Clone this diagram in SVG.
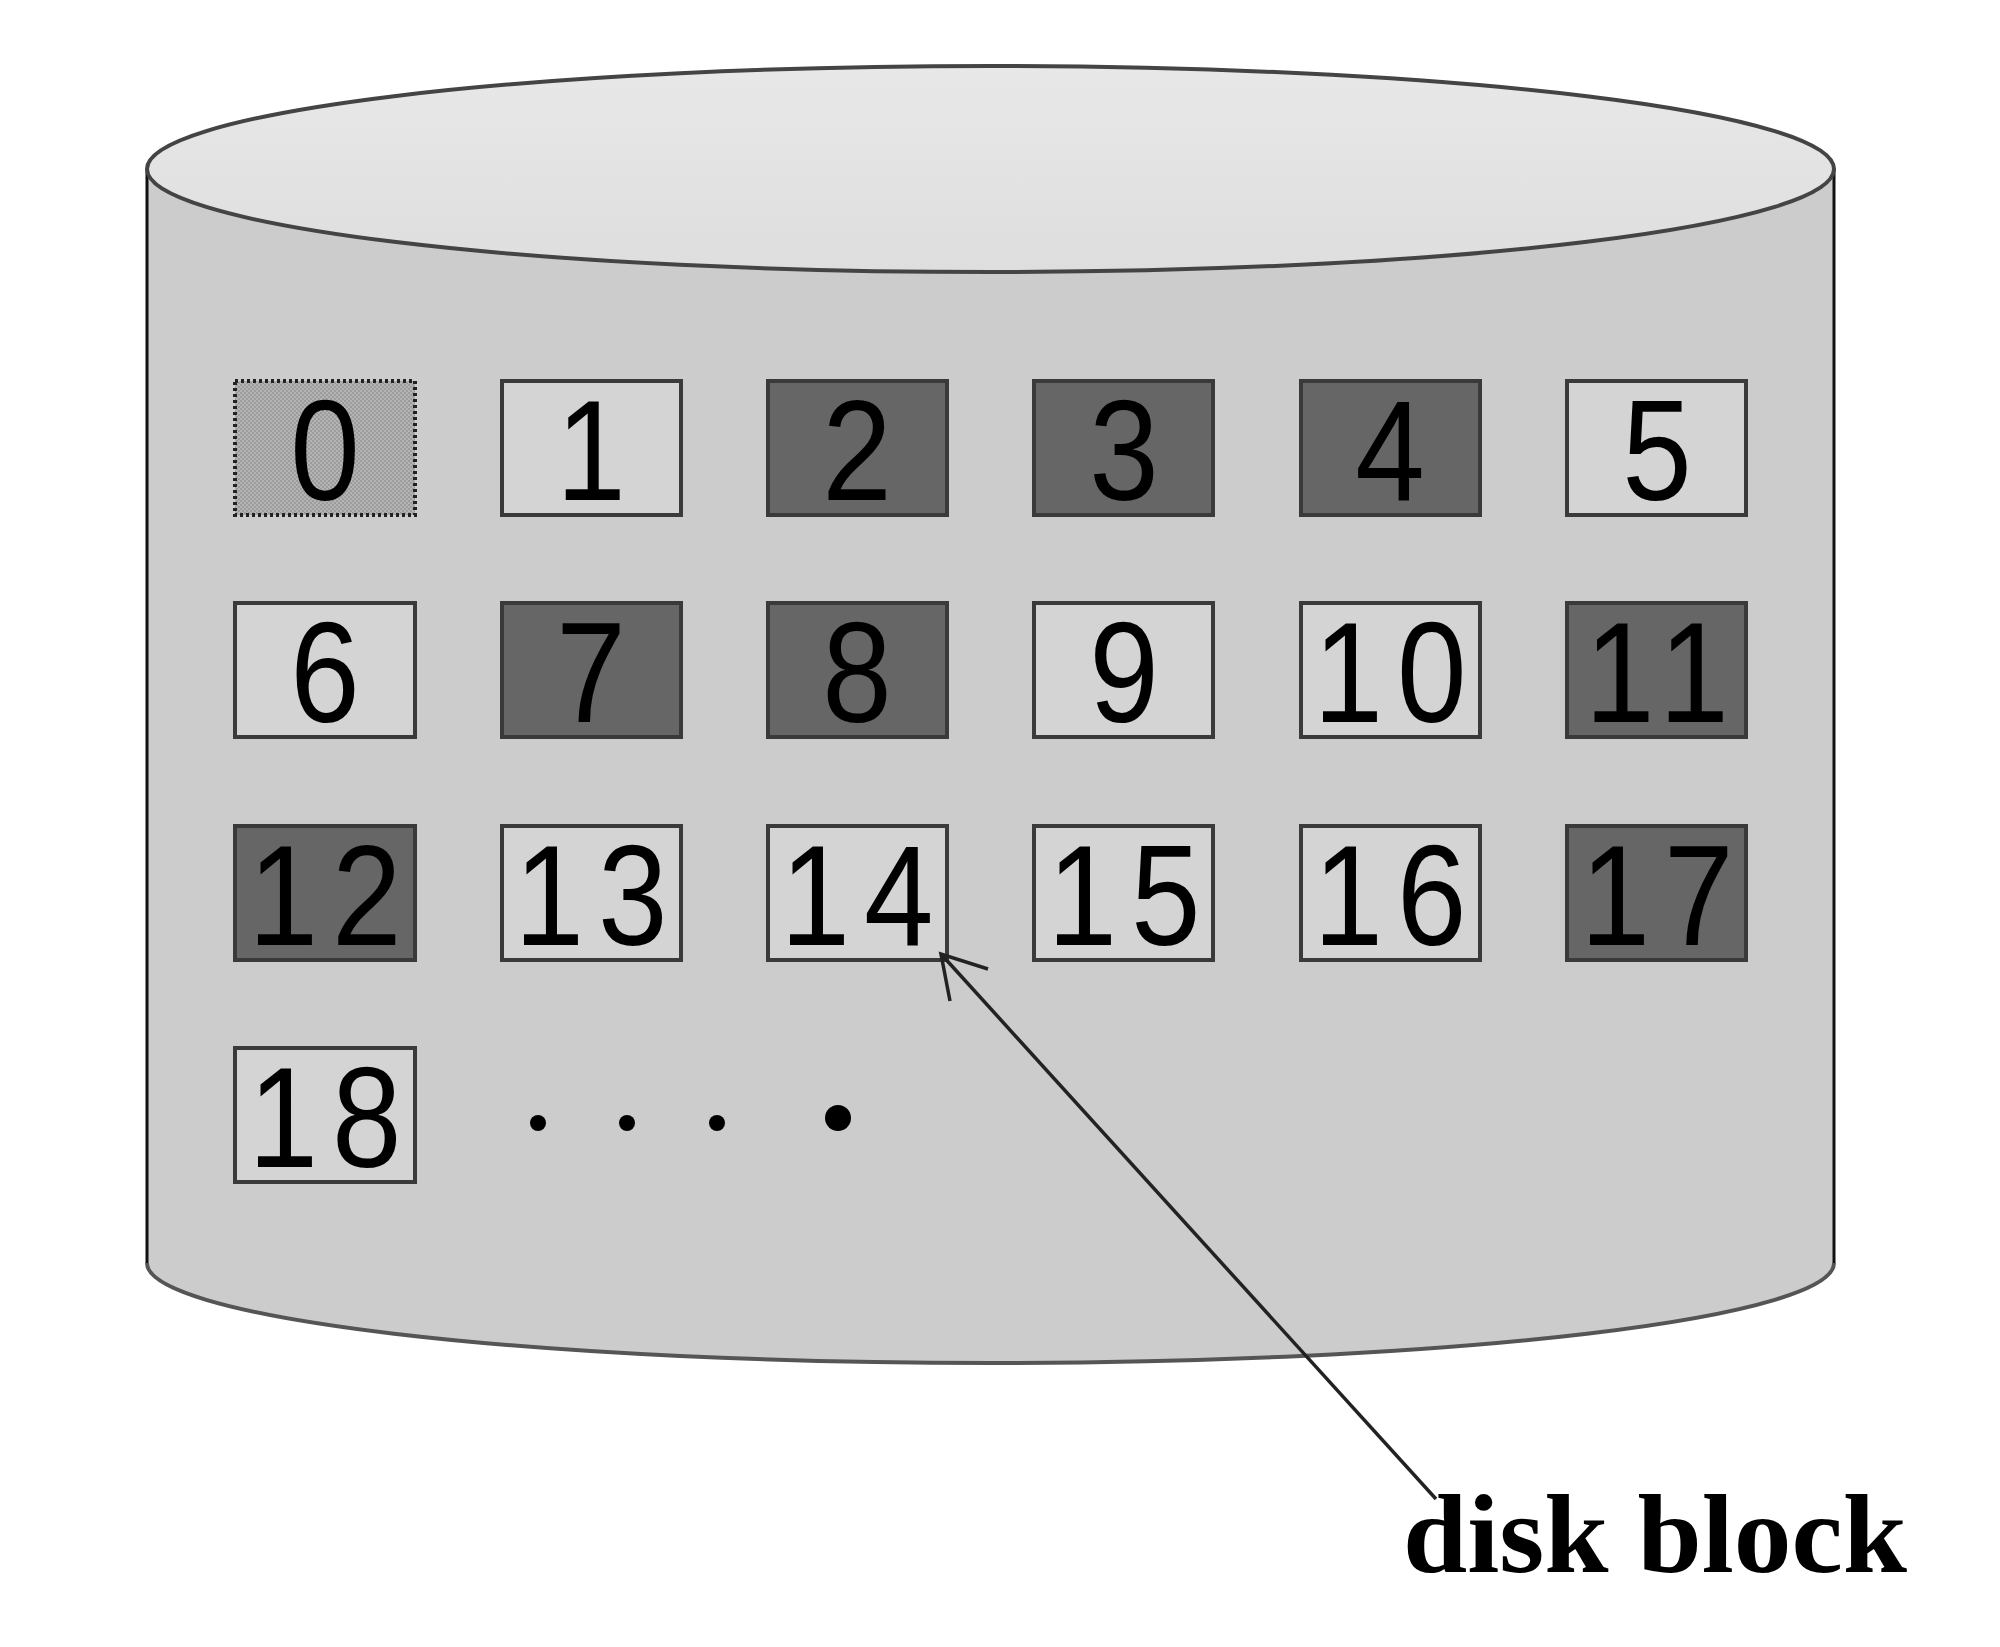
<svg xmlns="http://www.w3.org/2000/svg" width="2000" height="1647" viewBox="0 0 2000 1647">
<defs>
<linearGradient id="topg" x1="0" y1="0" x2="0" y2="1">
<stop offset="0" stop-color="#e8e8e8"/>
<stop offset="1" stop-color="#dedede"/>
</linearGradient>
<pattern id="chk" width="4" height="4" patternUnits="userSpaceOnUse">
<rect width="4" height="4" fill="#b4b4b4"/>
<rect width="2" height="2" fill="#9c9c9c"/>
<rect x="2" y="2" width="2" height="2" fill="#9c9c9c"/>
</pattern>
</defs>
<style>
.box{stroke:#3a3a3a;stroke-width:4}
.lt{fill:#d4d4d4}
.dk{fill:#666666}
.num{font-family:"Liberation Sans",Arial,sans-serif;font-size:142px;fill:#000;text-anchor:middle}
.two{letter-spacing:16px}
.lbl{font-family:"Liberation Serif","Times New Roman",serif;font-size:112px;font-weight:bold;fill:#000}
</style>
<rect width="2000" height="1647" fill="#ffffff"/>
<g id="cylinder">
<path d="M147,169 L147,1263 A843.5,100 0 0 0 1834,1263 L1834,169 Z" fill="#cccccc" stroke="none"/>
<path d="M147,1263 A843.5,100 0 0 0 1834,1263" fill="none" stroke="#555555" stroke-width="4"/>
<line x1="147" y1="169" x2="147" y2="1263" stroke="#111" stroke-width="3"/>
<line x1="1834" y1="169" x2="1834" y2="1263" stroke="#111" stroke-width="3"/>
<ellipse cx="990.5" cy="169" rx="843.5" ry="103" fill="url(#topg)" stroke="#444444" stroke-width="4"/>
</g>
<g id="b0"><rect x="235" y="381" width="180" height="134" fill="url(#chk)" stroke="#222" stroke-width="4" stroke-dasharray="3,3"/><text class="num" transform="translate(325,500) scale(0.88,1)">0</text></g>
<g id="b1"><rect class="box lt" x="502" y="381" width="179" height="134"/><text class="num" transform="translate(591,500) scale(0.88,1)">1</text></g>
<g id="b2"><rect class="box dk" x="768" y="381" width="179" height="134"/><text class="num" transform="translate(857,500) scale(0.88,1)">2</text></g>
<g id="b3"><rect class="box dk" x="1034" y="381" width="179" height="134"/><text class="num" transform="translate(1124,500) scale(0.88,1)">3</text></g>
<g id="b4"><rect class="box dk" x="1301" y="381" width="179" height="134"/><text class="num" transform="translate(1390,500) scale(0.88,1)">4</text></g>
<g id="b5"><rect class="box lt" x="1567" y="381" width="179" height="134"/><text class="num" transform="translate(1657,500) scale(0.88,1)">5</text></g>
<g id="b6"><rect class="box lt" x="235" y="603" width="180" height="134"/><text class="num" transform="translate(325,722) scale(0.88,1)">6</text></g>
<g id="b7"><rect class="box dk" x="502" y="603" width="179" height="134"/><text class="num" transform="translate(591,722) scale(0.88,1)">7</text></g>
<g id="b8"><rect class="box dk" x="768" y="603" width="179" height="134"/><text class="num" transform="translate(857,722) scale(0.88,1)">8</text></g>
<g id="b9"><rect class="box lt" x="1034" y="603" width="179" height="134"/><text class="num" transform="translate(1124,722) scale(0.88,1)">9</text></g>
<g id="b10"><rect class="box lt" x="1301" y="603" width="179" height="134"/><text class="num two" transform="translate(1397,722) scale(0.88,1)">10</text></g>
<g id="b11"><rect class="box dk" x="1567" y="603" width="179" height="134"/><text class="num two" transform="translate(1664,722) scale(0.88,1)">11</text></g>
<g id="b12"><rect class="box dk" x="235" y="826" width="180" height="134"/><text class="num two" transform="translate(332,945) scale(0.88,1)">12</text></g>
<g id="b13"><rect class="box lt" x="502" y="826" width="179" height="134"/><text class="num two" transform="translate(598,945) scale(0.88,1)">13</text></g>
<g id="b14"><rect class="box lt" x="768" y="826" width="179" height="134"/><text class="num two" transform="translate(864,945) scale(0.88,1)">14</text></g>
<g id="b15"><rect class="box lt" x="1034" y="826" width="179" height="134"/><text class="num two" transform="translate(1131,945) scale(0.88,1)">15</text></g>
<g id="b16"><rect class="box lt" x="1301" y="826" width="179" height="134"/><text class="num two" transform="translate(1397,945) scale(0.88,1)">16</text></g>
<g id="b17"><rect class="box dk" x="1567" y="826" width="179" height="134"/><text class="num two" transform="translate(1664,945) scale(0.88,1)">17</text></g>
<g id="b18"><rect class="box lt" x="235" y="1048" width="180" height="134"/><text class="num two" transform="translate(332,1167) scale(0.88,1)">18</text></g>
<g id="dots" fill="#000">
<circle cx="538" cy="1123" r="8"/>
<circle cx="627" cy="1123" r="8"/>
<circle cx="717" cy="1123" r="8"/>
<circle cx="838" cy="1118" r="13"/>
</g>
<g id="connectors" fill="none" stroke="#222" stroke-width="3.5">
<line x1="1436" y1="1499" x2="941" y2="954"/>
<path d="M988,969 L941,954 L950,1001"/>
</g>
<g id="label"><text class="lbl" x="1403" y="1572" textLength="504" lengthAdjust="spacingAndGlyphs">disk block</text></g>
</svg>
